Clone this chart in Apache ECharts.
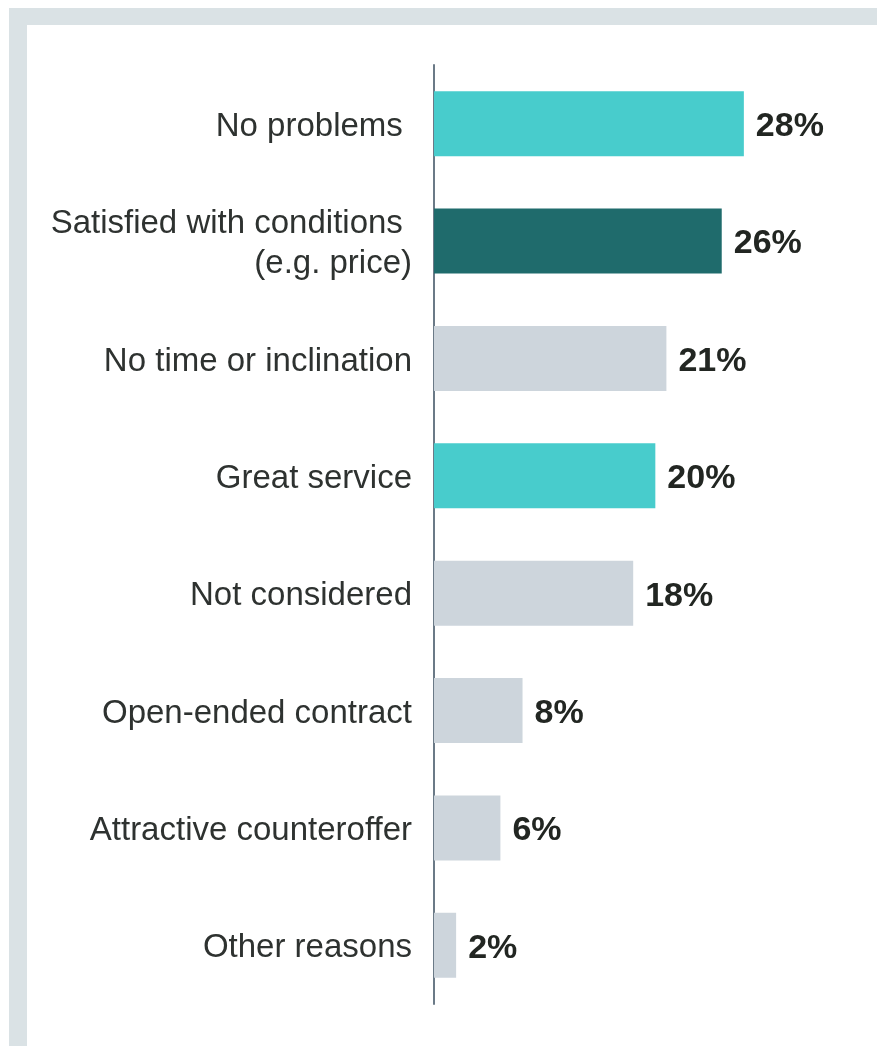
<!DOCTYPE html>
<html>
<head>
<meta charset="utf-8">
<script src="https://cdn.jsdelivr.net/npm/echarts@6/dist/echarts.min.js"></script>
<style>
  html, body { margin: 0; padding: 0; background: #ffffff; }
  #chart { width: 877px; height: 1046px; }
</style>
</head>
<body>
<div id="chart"></div>
<script>
// Reasons for staying with the current provider (share of respondents, %)
const categories = [
  'No problems ',
  'Satisfied with conditions \n(e.g. price)',
  'No time or inclination',
  'Great service',
  'Not considered',
  'Open-ended contract',
  'Attractive counteroffer',
  'Other reasons'
];
const values = [28, 26, 21, 20, 18, 8, 6, 2];
const barColors = ['#48cccc', '#1f6b6c', '#cdd5dc', '#48cccc', '#cdd5dc', '#cdd5dc', '#cdd5dc', '#cdd5dc'];

const FONT = '"Liberation Sans", Arial, Helvetica, sans-serif';

const chart = echarts.init(document.getElementById('chart'));
chart.setOption({
  animation: false,
  backgroundColor: '#ffffff',
  graphic: [
    { type: 'rect', shape: { x: 9, y: 8, width: 868, height: 17 }, style: { fill: '#dae2e5' }, z: -10 },
    { type: 'rect', shape: { x: 9, y: 8, width: 18, height: 1038 }, style: { fill: '#dae2e5' }, z: -10 }
  ],
  grid: { left: 434, right: 111, top: 65, bottom: 42 },
  xAxis: {
    type: 'value', min: 0, max: 30,
    show: false
  },
  yAxis: {
    type: 'category',
    data: categories,
    inverse: true,
    axisLine: { show: true, lineStyle: { color: '#6b7a87', width: 2 } },
    axisTick: { show: false },
    axisLabel: {
      margin: 22,
      align: 'right',
      formatter: (v) => v.split('\n').map((line) => '{t|' + line + '}').join('\n'),
      rich: {
        t: {
          fontFamily: FONT,
          fontSize: 33,
          color: '#2e3230',
          lineHeight: 40,
          padding: [6, 0, 0, 0],
          align: 'right'
        }
      }
    }
  },
  series: [{
    type: 'bar',
    data: values.map((v, i) => ({ value: v, itemStyle: { color: barColors[i] } })),
    barWidth: 65,
    label: {
      show: true,
      position: 'right',
      distance: 12,
      offset: [0, 3],
      formatter: '{c}%',
      fontFamily: FONT,
      fontWeight: 'bold',
      fontSize: 34,
      color: '#222622'
    }
  }]
});
</script>
</body>
</html>
